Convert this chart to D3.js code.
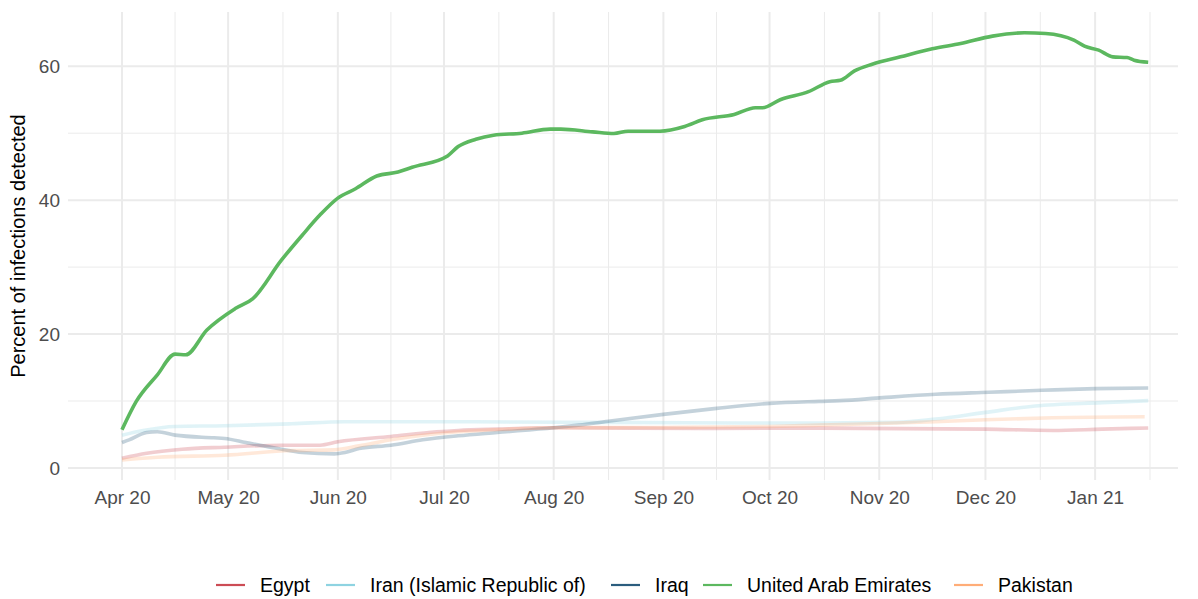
<!DOCTYPE html>
<html>
<head>
<meta charset="utf-8">
<script src="https://cdn.jsdelivr.net/npm/d3@7"></script>
<style>
  body { margin: 0; background: #fff; }
  text { font-family: "Liberation Sans", Arial, sans-serif; }
</style>
</head>
<body>
<div id="chart"></div>
<script>
// series values
const countries = ["Egypt", "Iran (Islamic Republic of)", "Iraq", "United Arab Emirates", "Pakistan"];
const colors = ["#cc4c55", "#8ed3e1", "#2b5d7e", "#5cb85f", "#ffad78"];

const egyptDates = ["2020-04-01","2020-04-08","2020-04-18","2020-04-30","2020-05-16","2020-05-27","2020-06-01","2020-06-16","2020-06-29","2020-07-05","2020-07-16","2020-08-01","2020-09-15","2020-10-15","2020-12-01","2020-12-20","2021-01-03","2021-01-16"];
const egyptValues = [1.45, 2.2, 2.8, 3.1, 3.4, 3.4, 3.9, 4.7, 5.4, 5.6, 5.8, 6.0, 5.9, 5.95, 5.8, 5.6, 5.8, 5.97];

const iranDates = ["2020-04-01","2020-04-07","2020-04-16","2020-04-30","2020-05-19","2020-06-03","2020-07-05","2020-08-15","2020-10-15","2020-11-06","2020-11-17","2020-12-01","2020-12-15","2021-01-03","2021-01-16"];
const iranValues = [4.9, 5.6, 6.2, 6.3, 6.6, 6.9, 6.9, 6.8, 6.7, 6.8, 7.3, 8.3, 9.25, 9.75, 10.05];

const iraqDates = ["2020-04-01","2020-04-03","2020-04-08","2020-04-11","2020-04-16","2020-04-27","2020-04-30","2020-05-06","2020-05-15","2020-05-22","2020-05-31","2020-06-03","2020-06-07","2020-06-16","2020-06-25","2020-07-05","2020-07-16","2020-08-01","2020-08-08","2020-08-17","2020-09-01","2020-09-16","2020-10-01","2020-10-15","2020-10-21","2020-11-02","2020-11-17","2020-12-02","2020-12-17","2021-01-01","2021-01-16"];
const iraqValues = [3.8, 4.2, 5.3, 5.4, 4.9, 4.5, 4.4, 3.8, 2.9, 2.3, 2.1, 2.3, 2.9, 3.4, 4.2, 4.8, 5.3, 6.0, 6.4, 7.0, 8.0, 8.9, 9.65, 9.95, 10.05, 10.5, 11.0, 11.3, 11.6, 11.85, 11.95];

const uaeDates = ["2020-04-01","2020-04-05","2020-04-11","2020-04-16","2020-04-19","2020-04-25","2020-05-03","2020-05-08","2020-05-16","2020-05-22","2020-05-27","2020-06-01","2020-06-06","2020-06-12","2020-06-18","2020-06-22","2020-07-02","2020-07-05","2020-07-10","2020-07-15","2020-07-23","2020-07-31","2020-08-03","2020-08-12","2020-08-18","2020-08-22","2020-08-31","2020-09-07","2020-09-12","2020-09-21","2020-09-27","2020-09-29","2020-10-04","2020-10-12","2020-10-18","2020-10-21","2020-10-25","2020-10-30","2020-11-07","2020-11-16","2020-11-24","2020-12-03","2020-12-12","2020-12-18","2020-12-26","2020-12-29","2021-01-02","2021-01-06","2021-01-10","2021-01-12","2021-01-16"];
const uaeValues = [5.7, 9.9, 13.9, 17.0, 16.9, 20.6, 23.8, 25.3, 31.0, 34.8, 37.8, 40.3, 41.7, 43.6, 44.2, 44.9, 46.6, 48.0, 49.1, 49.7, 50.0, 50.6, 50.6, 50.2, 49.95, 50.3, 50.3, 51.0, 52.0, 52.8, 53.8, 53.8, 55.0, 56.2, 57.7, 57.9, 59.3, 60.3, 61.4, 62.6, 63.4, 64.5, 65.0, 64.9, 63.9, 63.0, 62.4, 61.4, 61.3, 60.9, 60.6];

const pakistanDates = ["2020-04-01","2020-04-11","2020-04-30","2020-05-19","2020-05-31","2020-06-07","2020-06-16","2020-07-05","2020-07-20","2020-08-01","2020-09-01","2020-10-01","2020-10-15","2020-11-17","2020-12-01","2020-12-20","2021-01-15"];
const pakistanValues = [1.2, 1.6, 1.9, 2.6, 2.7, 3.3, 4.2, 5.4, 5.8, 6.0, 6.05, 6.2, 6.4, 6.9, 7.2, 7.5, 7.65];

const xTicks = ["2020-04-01","2020-05-01","2020-06-01","2020-07-01","2020-08-01","2020-09-01","2020-10-01","2020-11-01","2020-12-01","2021-01-01"];
const yTicks = [0, 20, 40, 60];
const yMinor = [10, 30, 50];

const width = 1198, height = 599;
const margin = {top: 12, right: 20, bottom: 119, left: 68};
const innerW = width - margin.left - margin.right,
    innerH = height - margin.top - margin.bottom;

const parse = d3.timeParse("%Y-%m-%d");

const series = [
    {name: countries[0], color: colors[0], dates: egyptDates, values: egyptValues},
    {name: countries[1], color: colors[1], dates: iranDates, values: iranValues},
    {name: countries[2], color: colors[2], dates: iraqDates, values: iraqValues},
    {name: countries[4], color: colors[4], dates: pakistanDates, values: pakistanValues},
    {name: countries[3], color: colors[3], dates: uaeDates, values: uaeValues, highlight: true}
].map(s => ({...s, points: s.dates.map((d, i) => ({date: parse(d), value: s.values[i]}))}));

let svg = d3.select("#chart")
    .append("svg")
    .attr("width", width)
    .attr("height", height);

let group = svg.append("g")
    .attr("transform", `translate(${margin.left},${margin.top})`);

let xScale = d3.scaleTime()
    .domain([new Date(2020, 2, 16, 18), new Date(2021, 0, 24, 10)])
    .range([0, innerW]);

let yScale = d3.scaleLinear()
    .domain([-1.8, 68.1])
    .range([innerH, 0]);

// minor grid
const majorDates = xTicks.map(parse);
const minorDates = [];
for (let i = 0; i < majorDates.length; i++) {
    const a = majorDates[i];
    const b = i < majorDates.length - 1 ? majorDates[i + 1] : d3.timeMonth.offset(a, 1);
    minorDates.push(new Date((+a + +b) / 2));
}
group.append("g").selectAll("line")
    .data(minorDates.filter(d => xScale(d) <= innerW))
    .join("line")
    .attr("x1", d => xScale(d)).attr("x2", d => xScale(d))
    .attr("y1", 0).attr("y2", innerH)
    .attr("stroke", "#ebebeb").attr("stroke-width", 1);

group.append("g").selectAll("line")
    .data(yMinor)
    .join("line")
    .attr("x1", 0).attr("x2", innerW)
    .attr("y1", d => yScale(d)).attr("y2", d => yScale(d))
    .attr("stroke", "#ebebeb").attr("stroke-width", 1);

// major grid
group.append("g").selectAll("line")
    .data(majorDates)
    .join("line")
    .attr("x1", d => xScale(d)).attr("x2", d => xScale(d))
    .attr("y1", 0).attr("y2", innerH)
    .attr("stroke", "#ebebeb").attr("stroke-width", 2);

group.append("g").selectAll("line")
    .data(yTicks)
    .join("line")
    .attr("x1", 0).attr("x2", innerW)
    .attr("y1", d => yScale(d)).attr("y2", d => yScale(d))
    .attr("stroke", "#ebebeb").attr("stroke-width", 2);

// axes
const xAxis = d3.axisBottom(xScale)
    .tickValues(majorDates)
    .tickFormat(d3.timeFormat("%b %y"))
    .tickSize(0)
    .tickPadding(11);

let x_labels = group.append("g")
    .attr("transform", `translate(0,${innerH})`)
    .call(xAxis);

const yAxis = d3.axisLeft(yScale)
    .tickValues(yTicks)
    .tickSize(0)
    .tickPadding(8);

let y_labels = group.append("g").call(yAxis);

[x_labels, y_labels].forEach(g => {
    g.select(".domain").remove();
    g.selectAll("text")
        .style("font-family", "'Liberation Sans', Arial, sans-serif")
        .style("font-size", "19px")
        .attr("fill", "#4d4d4d");
});

svg.append("text")
    .attr("transform", `translate(25,${margin.top + innerH / 2}) rotate(-90)`)
    .attr("text-anchor", "middle")
    .style("font-size", "20px")
    .attr("fill", "#000")
    .text("Percent of infections detected");

// lines
const line = d3.line()
    .x(d => xScale(d.date))
    .y(d => yScale(d.value))
    .curve(d3.curveMonotoneX);

group.append("g").selectAll("path")
    .data(series)
    .join("path")
    .attr("d", d => line(d.points))
    .attr("fill", "none")
    .attr("stroke", d => d.color)
    .attr("stroke-opacity", d => d.highlight ? 1 : 0.28)
    .attr("stroke-width", 3.6)
    .attr("stroke-linejoin", "round")
    .attr("stroke-linecap", "butt");

// legend
const legendX = [216, 326, 611, 703, 954];
let legend = svg.append("g").attr("transform", "translate(0,585)");
let items = legend.selectAll("g")
    .data(countries)
    .join("g")
    .attr("transform", (d, i) => `translate(${legendX[i]},0)`);
items.append("line")
    .attr("x1", 0).attr("x2", 29)
    .attr("stroke", (d, i) => colors[i])
    .attr("stroke-width", 2.2);
items.append("text")
    .attr("x", 44)
    .attr("dy", "0.35em")
    .style("font-size", "19.5px")
    .attr("fill", "#000")
    .text(d => d);
</script>
</body>
</html>
